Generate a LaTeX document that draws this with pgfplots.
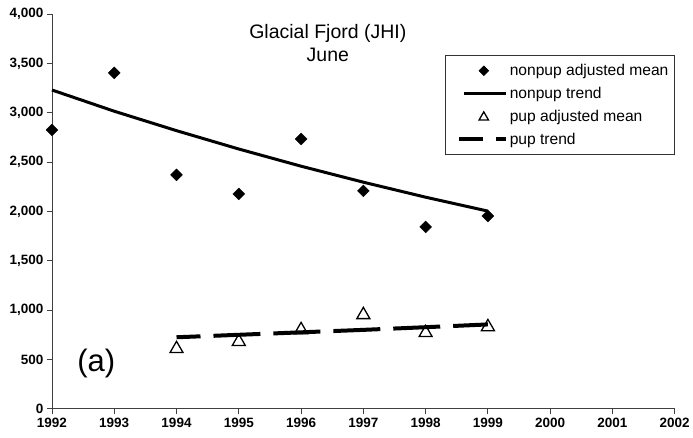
\documentclass[border=0pt]{standalone}
\usepackage{fontspec}
\setmainfont{Liberation Sans}
\usepackage{pgfplots}
\pgfplotsset{compat=1.18}
\pgfplotsset{
  legdiamond/.style={legend image code/.code={\path[draw=none,fill=none] (0pt,0pt) -- (56pt,0pt); \draw[##1, mark size=3.4pt] plot coordinates {(34pt,0pt)};}},
  legsolid/.style={legend image code/.code={\path[draw=none,fill=none] (0pt,0pt) -- (56pt,0pt); \draw[##1] (14pt,0pt) -- (56pt,0pt);}},
  legtri/.style={legend image code/.code={\path[draw=none,fill=none] (0pt,0pt) -- (56pt,0pt); \draw[##1, mark size=5.5pt] plot coordinates {(34pt,-1pt)};}},
  legdash/.style={legend image code/.code={\path[draw=none,fill=none] (0pt,0pt) -- (56pt,0pt); \draw[black, line width=4pt] (9pt,0pt) -- (36pt,0pt) (46pt,0pt) -- (56pt,0pt);}},
}
\begin{document}
\begin{tikzpicture}
\begin{axis}[
  scale only axis,
  width=623pt, height=395pt,
  xmin=1992, xmax=2002, ymin=0, ymax=4000,
  axis lines=left,
  axis line style={-, line width=0.8pt, black!75},
  xtick={1992,...,2002},
  ytick={0,500,...,4000},
  tick align=outside,
  tick style={black!75, line width=0.8pt},
  major tick length=5pt,
  /pgf/number format/assume math mode=true,
  x tick label style={/pgf/number format/1000 sep={}, font=\bfseries\fontsize{13.5}{15}\selectfont},
  y tick label style={/pgf/number format/1000 sep={,}, font=\bfseries\fontsize{13.5}{15}\selectfont},
  xticklabel style={yshift=-1pt},
  clip=false,
  legend style={at={(rel axis cs:1.0,0.896)}, anchor=north east, draw=black!80, line width=0.6pt,
    font=\fontsize{15.6}{18}\selectfont, row sep=6pt, inner xsep=4pt, inner ysep=7pt,
    /tikz/every even column/.append style={column sep=1pt}},
  legend cell align=left,
]
\addplot[only marks, mark=square*, mark size=4.2pt, mark options={rotate=45, fill=black}, legdiamond]
  coordinates {(1992,2825) (1993,3403) (1994,2370) (1995,2177) (1996,2734) (1997,2208) (1998,1843) (1999,1954)};
\addlegendentry{nonpup adjusted mean}
\addplot[line width=3pt, black, legsolid]
  coordinates {(1992,3230) (1993,3015) (1994,2818) (1995,2632) (1996,2458) (1997,2296) (1998,2144) (1999,2003)};
\addlegendentry{nonpup trend}
\addplot[only marks, mark=triangle, mark size=7.5pt, mark options={fill=white, line width=1.3pt}, legtri]
  coordinates {(1994,608) (1995,680) (1996,800) (1997,952) (1998,770) (1999,830)};
\addlegendentry{pup adjusted mean}
\addplot[line width=4pt, black, dash pattern=on 47pt off 13pt, dash phase=23pt, legdash]
  coordinates {(1994,725) (1995,750) (1996,775) (1997,800) (1998,827) (1999,855)};
\addlegendentry{pup trend}
\node[align=center, font=\fontsize{19.5}{23}\selectfont] at (rel axis cs:0.443,0.927) {Glacial Fjord (JHI)\\June};
\node[font=\fontsize{31}{34}\selectfont] at (axis cs:1992.71,455) {(a)};
\path (rel axis cs:0,0) -- ++(-52pt,-29pt);
\path (rel axis cs:1,1) -- ++(18pt,14pt);
\end{axis}
\end{tikzpicture}
\end{document}
